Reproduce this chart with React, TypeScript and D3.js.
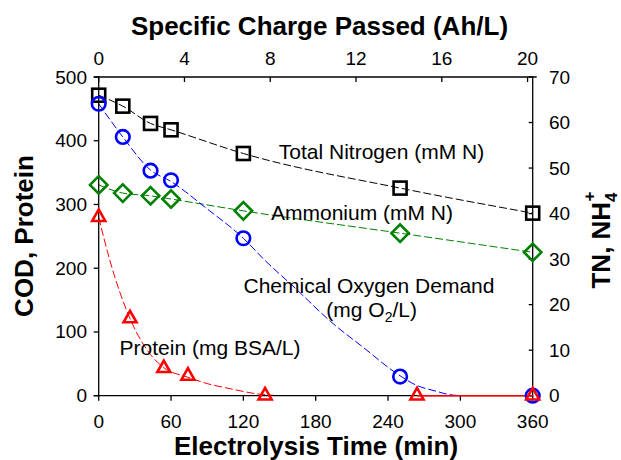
import React from "react";
import * as d3 from "d3";

// ---- data ----
const mainTimes = [0, 20, 43, 60, 120, 250, 360];
const codValues = [458, 406, 353, 338, 247, 30, 0];
const tnValues = [66.0, 63.6, 59.8, 58.4, 53.2, 45.6, 40.1];
const nh4Values = [46.3, 44.5, 43.9, 43.2, 40.6, 35.7, 31.5];

const proteinTimes = [0, 26, 54, 74, 138, 264, 360];
const proteinValues = [280, 121, 43, 31, 0, 0, 0];

// fitted curves as seen on the picture
const codFitTimes = [0, 20, 43, 60, 90, 120, 137, 164, 192, 220, 247, 264, 280, 290, 300];
const codFitValues = [458, 406, 354, 336, 293, 247, 214, 167, 117, 75, 35, 16, 7, 2, 0];
const proteinFitTimes = [0, 9, 26, 40, 54, 74, 90, 109, 131, 150];
const proteinFitValues = [280, 214, 121, 72, 44, 29, 19, 11, 3, 0];

const bottomTicks = [0, 60, 120, 180, 240, 300, 360];
const topTicks = [0, 4, 8, 12, 16, 20];
const leftTicks = [0, 100, 200, 300, 400, 500];
const rightTicks = [0, 10, 20, 30, 40, 50, 60, 70];

const FONT = "'Liberation Sans', Arial, sans-serif";

export default function App() {
  const x = d3.scaleLinear().domain([0, 360]).range([98.7, 532.7]);
  const xTop = d3.scaleLinear().domain([0, 20.24]).range([98.7, 532.7]);
  const yL = d3.scaleLinear().domain([0, 500]).range([395.7, 77]);
  const yR = d3.scaleLinear().domain([0, 70]).range([395.7, 77]);

  const lineL = d3
    .line<[number, number]>()
    .x((d) => x(d[0]))
    .y((d) => yL(d[1]))
    .curve(d3.curveMonotoneX);
  const lineR = d3
    .line<[number, number]>()
    .x((d) => x(d[0]))
    .y((d) => yR(d[1]))
    .curve(d3.curveMonotoneX);

  const zip = (a: number[], b: number[]) => a.map((t, i) => [t, b[i]] as [number, number]);

  const codFit = lineL(zip(codFitTimes, codFitValues)) || "";
  const protFit = lineL(zip(proteinFitTimes, proteinFitValues)) || "";
  const tnFit = lineR(zip(mainTimes, tnValues)) || "";
  const nh4Fit = lineR(zip(mainTimes, nh4Values)) || "";
  const protZero =
    d3.line<[number, number]>().x((d) => x(d[0])).y((d) => yL(d[1]))(
      zip(proteinTimes.slice(5), proteinValues.slice(5))
    ) || "";

  const left = x(0);
  const right = x(360);
  const top = yL(500);
  const bottom = yL(0);

  const sq = 13;
  const triW = 13;
  const triH = 11.5;
  const dia = 8.7;

  return (
    <svg
      width={621}
      height={460}
      style={{ position: "absolute", left: 0, top: 0, background: "#fff" }}
      fontFamily={FONT}
    >
      <rect x={0} y={0} width={621} height={460} fill="#fff" />

      {/* fitted dashed curves */}
      <path d={tnFit} fill="none" stroke="#000" strokeWidth={1} strokeDasharray="8,3" />
      <path d={nh4Fit} fill="none" stroke="#008000" strokeWidth={1} strokeDasharray="8,3" />
      <path d={codFit} fill="none" stroke="#0000ff" strokeWidth={1} strokeDasharray="8,3" />
      <path d={protFit} fill="none" stroke="#ff0000" strokeWidth={1} strokeDasharray="8,3" />

      {/* axes */}
      <g stroke="#000" strokeWidth={1.3} fill="none">
        <line x1={left} y1={top - 1} x2={left} y2={bottom + 1} />
        <line x1={right} y1={top - 1} x2={right} y2={bottom + 1} />
        <line x1={left - 5} y1={top} x2={right + 4} y2={top} />
        <line x1={left - 5} y1={bottom} x2={right} y2={bottom} />
        {bottomTicks.map((t) => (
          <line key={"bt" + t} x1={x(t)} x2={x(t)} y1={bottom} y2={bottom + 5} />
        ))}
        {topTicks.map((t) => (
          <line key={"tt" + t} x1={xTop(t)} x2={xTop(t)} y1={top} y2={top + 5} />
        ))}
        {leftTicks.map((t) => (
          <line key={"lt" + t} x1={left - 5} x2={left} y1={yL(t)} y2={yL(t)} />
        ))}
        {rightTicks.map((t) => (
          <line key={"rt" + t} x1={right - 4} x2={right} y1={yR(t)} y2={yR(t)} />
        ))}
      </g>

      {/* protein zero segment */}
      <path d={protZero} fill="none" stroke="#ff0000" strokeWidth={1.5} />

      {/* markers */}
      {mainTimes.map((t, i) => (
        <rect
          key={"sq" + i}
          x={x(t) - sq / 2}
          y={yR(tnValues[i]) - sq / 2}
          width={sq}
          height={sq}
          fill="none"
          stroke="#000"
          strokeWidth={2.6}
        />
      ))}
      {mainTimes.map((t, i) => {
        const cx = x(t);
        const cy = yR(nh4Values[i]);
        return (
          <path
            key={"di" + i}
            d={`M${cx},${cy - dia}L${cx + dia},${cy}L${cx},${cy + dia}L${cx - dia},${cy}Z`}
            fill="none"
            stroke="#008000"
            strokeWidth={2.6}
          />
        );
      })}
      {mainTimes.map((t, i) => (
        <circle
          key={"ci" + i}
          cx={x(t)}
          cy={yL(codValues[i])}
          r={6.8}
          fill="none"
          stroke="#0000ff"
          strokeWidth={2.6}
        />
      ))}
      {proteinTimes.map((t, i) => {
        const cx = x(t);
        const cy = yL(proteinValues[i]) - 2;
        return (
          <path
            key={"tr" + i}
            d={`M${cx},${cy - triH / 2}L${cx + triW / 2},${cy + triH / 2}L${cx - triW / 2},${cy + triH / 2}Z`}
            fill="none"
            stroke="#ff0000"
            strokeWidth={2.6}
            strokeLinejoin="miter"
          />
        );
      })}

      {/* tick labels */}
      <g fontSize={19} fill="#000">
        {bottomTicks.map((t) => (
          <text key={"bl" + t} x={x(t)} y={428} textAnchor="middle">
            {t}
          </text>
        ))}
        {topTicks.map((t) => (
          <text key={"tl" + t} x={xTop(t)} y={65} textAnchor="middle">
            {t}
          </text>
        ))}
        {leftTicks.map((t) => (
          <text key={"ll" + t} x={87} y={yL(t)} textAnchor="end" dominantBaseline="central">
            {t}
          </text>
        ))}
        {rightTicks.map((t) => (
          <text key={"rl" + t} x={549} y={yR(t)} textAnchor="start" dominantBaseline="central">
            {t}
          </text>
        ))}
      </g>

      {/* axis titles */}
      <g fontSize={26} fontWeight="bold" fill="#000">
        <text x={319.5} y={35} textAnchor="middle">
          Specific Charge Passed (Ah/L)
        </text>
        <text x={316} y={455} textAnchor="middle">
          Electrolysis Time (min)
        </text>
        <text transform="translate(33,236) rotate(-90)" textAnchor="middle">
          COD, Protein
        </text>
        <text transform="translate(610,240) rotate(-90)" textAnchor="middle">
          TN, NH
          <tspan fontSize={17} dy={7}>4</tspan>
          <tspan fontSize={17} dx={-9} dy={-22}>+</tspan>
        </text>
      </g>

      {/* annotations */}
      <g fontSize={21} fill="#000">
        <text x={381.5} y={159} textAnchor="middle">
          Total Nitrogen (mM N)
        </text>
        <text x={362} y={220} textAnchor="middle">
          Ammonium (mM N)
        </text>
        <text x={369} y={293} textAnchor="middle">
          Chemical Oxygen Demand
        </text>
        <text x={371.7} y={316.7} textAnchor="middle">
          (mg O<tspan fontSize={14} dy={5}>2</tspan>
          <tspan dy={-5}>/L)</tspan>
        </text>
        <text x={210} y={355} textAnchor="middle">
          Protein (mg BSA/L)
        </text>
      </g>
    </svg>
  );
}
